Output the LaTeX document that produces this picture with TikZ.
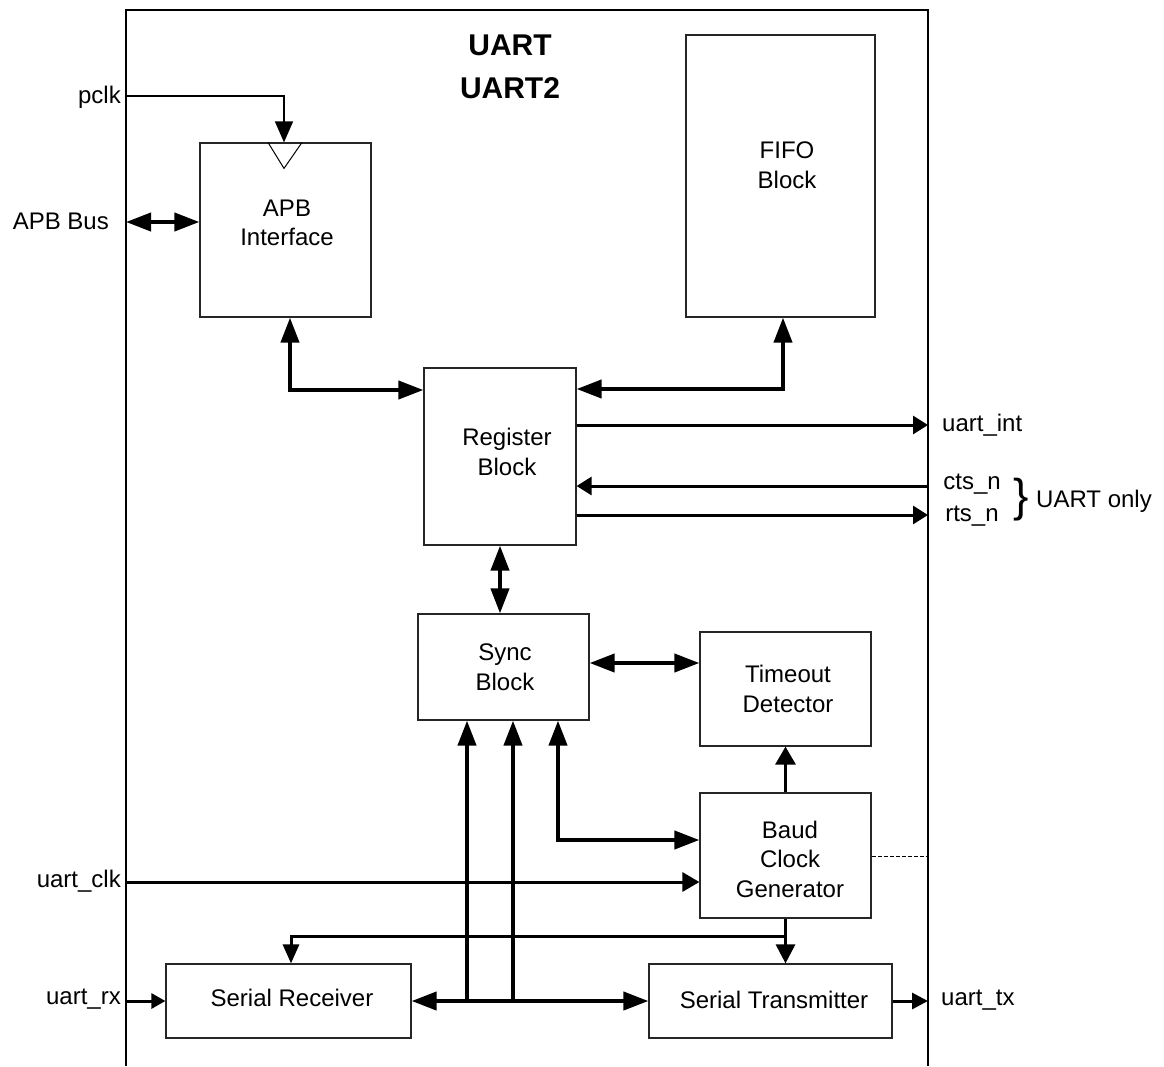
\documentclass[tikz,border=0pt]{standalone}
\usepackage{fontspec}
\setmainfont{Liberation Sans}
\usetikzlibrary{arrows.meta}
\begin{document}
\begin{tikzpicture}[x=1pt,y=-1pt,
  box/.style={draw=black!85, line width=1.2pt, inner sep=0pt, fill=white},
  txt/.style={font=\fontsize{24}{29.5}\selectfont, align=center, inner sep=0pt},
  lbl/.style={font=\fontsize{24}{29}\selectfont, inner sep=0pt},
  bigtip/.tip={Triangle[length=25pt,width=18pt]},
  medtip/.tip={Triangle[length=17pt,width=19pt]},
  smalltip/.tip={Triangle[length=15pt,width=18pt]},
  big/.style={line width=4pt, -bigtip},
  bigboth/.style={line width=4pt, bigtip-bigtip},
  med/.style={line width=3pt, -medtip},
  sig/.style={line width=3pt, -smalltip},
]
\useasboundingbox (0,0) rectangle (1164,1066);

% outer frame
\draw[line width=2pt] (126,1066) -- (126,10) -- (928,10) -- (928,1066);

% frame coordinates
\coordinate (pclkin) at (126,96);
\coordinate (apbbus) at (126,222);
\coordinate (clkin) at (126,882);
\coordinate (rxin) at (126,1001);
\coordinate (intout) at (928,425);
\coordinate (ctsin) at (928,486);
\coordinate (rtsout) at (928,515);
\coordinate (txout) at (928,1001);
\coordinate (dashend) at (928,856);

% title
\node[font=\bfseries\fontsize{30}{43}\selectfont, align=center, inner sep=0pt] (title) at (510,67) {UART\\UART2};

% boxes
\node[box, minimum width=171pt, minimum height=174pt] (apb) at (285.5,230) {};
\node[txt] (apbt) at (287,223) {APB\\Interface};
\draw[line width=1pt] ([xshift=-17.5pt]apb.north) -- ([xshift=-1.5pt,yshift=-26pt]apb.north) coordinate (tri) -- ([xshift=16.5pt]apb.north);

\node[box, minimum width=189pt, minimum height=282pt] (fifo) at (780.5,176) {};
\node[txt] (fifot) at (787,165) {FIFO\\Block};

\node[box, minimum width=152pt, minimum height=177pt] (reg) at (500,456.5) {};
\node[txt] (regt) at (507,452) {Register\\Block};

\node[box, minimum width=171pt, minimum height=106pt] (sync) at (503.5,667) {};
\node[txt] (synct) at (505,667) {Sync\\Block};

\node[box, minimum width=171pt, minimum height=114pt] (timeout) at (785.5,689) {};
\node[txt] (timeoutt) at (788,689) {Timeout\\Detector};

\node[box, minimum width=171pt, minimum height=125pt] (baud) at (785.5,855.5) {};
\node[txt] (baudt) at (790,859) {Baud\\Clock\\Generator};

\node[box, minimum width=245pt, minimum height=74pt] (rx) at (288.5,1001) {};
\node[txt] (rxt) at (292,998) {Serial Receiver};

\node[box, minimum width=243pt, minimum height=74pt] (tx) at (770.5,1001) {};
\node[txt] (txt) at (774,1000) {Serial Transmitter};

% external labels
\node[lbl, anchor=east] (pclkl) at (121,97) {pclk};
\node[lbl, anchor=east] (apbbusl) at (109,221) {APB Bus};
\node[lbl, anchor=east] (clkl) at (121,881) {uart\_clk};
\node[lbl, anchor=east] (rxl) at (121,999) {uart\_rx};
\node[lbl, anchor=west] (intl) at (942,425) {uart\_int};
\node[lbl] (ctsl) at (972,484) {cts\_n};
\node[lbl] (rtsl) at (972,516) {rts\_n};
\node[font=\fontsize{46}{46}\selectfont, inner sep=0pt] (brace) at (1021,500) {\}};
\node[lbl, anchor=west] (onlyl) at (1036,501) {UART only};
\node[lbl, anchor=west] (txl) at (941,1000) {uart\_tx};

% connectors
\draw[line width=1.5pt, -{Triangle[length=21pt,width=18pt]}] (pclkin) -| ([xshift=-1.5pt]apb.north);
\draw[bigboth] (apbbus) -- (apb.west |- apbbus);
\draw[bigboth] ([xshift=4.5pt]apb.south) |- (reg.west |- 0,390);
\draw[bigboth] ([xshift=2.5pt]fifo.south) |- (reg.east |- 0,389);
\draw[sig] (reg.east |- intout) -- (intout);
\draw[sig] (ctsin) -- (reg.east |- ctsin);
\draw[sig] (reg.east |- rtsout) -- (rtsout);
\draw[bigboth] (reg.south) -- (reg.south |- sync.north);
\draw[bigboth] (sync.east |- 0,663) -- (timeout.west |- 0,663);
\draw[line width=3pt, -{Triangle[length=18pt,width=20pt]}] (baud.north) -- (timeout.south);
\draw[dashed, line width=1pt, dash pattern=on 4pt off 2pt] (baud.east |- dashend) -- (dashend);
\draw[med] (clkin) -- (baud.west |- clkin);
\draw[bigboth] (sync.south -| 558,0) |- (baud.west |- 0,840);

\draw[bigboth] (rx.east) -- (tx.west);
\coordinate (b1) at (467,1001);
\coordinate (b2) at (513,1001);
\draw[big] (b1) -- (b1 |- sync.south);
\draw[big] (b2) -- (b2 |- sync.south);

\draw[line width=3pt, -{Triangle[length=19pt,width=19pt]}] (baud.south) -- (baud.south |- tx.north);
\draw[line width=3pt, -{Triangle[length=19pt,width=16pt]}] (baud.south |- 0,936) -| ([xshift=2.5pt]rx.north);
\draw[line width=3pt, -{Triangle[length=14pt,width=15pt]}] (rxin) -- (rx.west);
\draw[line width=3pt, -{Triangle[length=16pt,width=16pt]}] (tx.east) -- (txout);
\end{tikzpicture}
\end{document}
